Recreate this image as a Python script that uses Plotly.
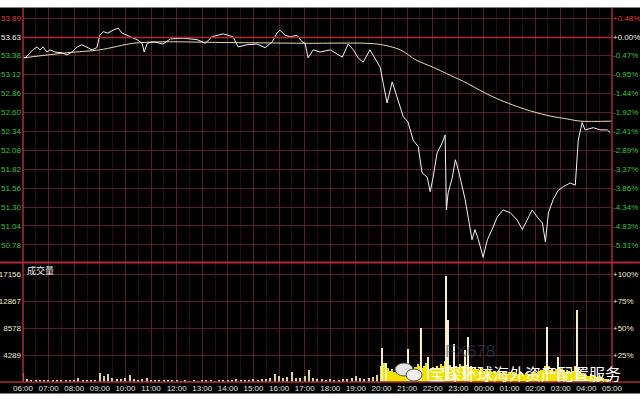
import plotly.graph_objects as go
import pandas as pd

# ---------------- data ----------------
price_times = ["06:01","06:05","06:12","06:23","06:33","06:40","06:47","06:56","07:03","07:15","07:31","07:43","07:55",
               "08:07","08:18","08:30","08:42","08:53","09:00","09:08","09:19","09:31","09:43","09:52","10:04","10:15",
               "10:27","10:39","10:44","10:51","11:05","11:21","11:28","11:45","12:15","12:48","13:07","13:23","13:49",
               "14:12","14:24","14:45","15:08","15:27","15:44","15:55","16:02","16:14","16:26","16:42","16:54","17:01",
               "17:08","17:20","17:36","18:00","18:11","18:28","18:42","18:54","19:05","19:17","19:33","19:50","19:57",
               "20:04","20:13","20:25","20:37","20:51","21:02","21:14","21:26","21:35","21:47","21:54","22:01","22:10",
               "22:22","22:29","22:32","22:36","22:46","22:53","23:00","23:09","23:16","23:23","23:32","23:39","23:47",
               "23:58","00:08","00:19","00:31","00:45","01:02","01:18","01:30","01:41","01:53","02:05","02:17","02:24",
               "02:31","02:42","02:54","03:06","03:22","03:34","03:39","03:41","03:50","03:57","04:16","04:32","04:49","04:56"]
price_vals = [53.36,53.35,53.39,53.46,53.50,53.46,53.50,53.43,53.46,53.43,53.42,53.39,53.43,
              53.50,53.53,53.49,53.46,53.49,53.66,53.71,53.69,53.73,53.76,53.69,53.66,53.64,
              53.60,53.55,53.43,53.55,53.57,53.55,53.54,53.61,53.62,53.60,53.55,53.64,53.68,
              53.64,53.50,53.53,53.54,53.49,53.57,53.69,53.73,53.66,53.64,53.66,53.57,53.55,
              53.35,53.46,53.43,53.46,53.42,53.36,53.54,53.46,53.35,53.29,53.46,53.28,53.22,
              53.00,52.73,53.02,52.81,52.54,52.47,52.22,52.13,51.77,51.71,51.51,51.71,52.04,
              52.18,52.29,51.26,51.49,51.71,51.95,51.81,51.58,51.40,51.16,50.85,50.99,50.85,
              50.61,50.85,50.99,51.16,51.26,51.22,51.12,50.99,51.12,51.26,51.16,51.08,50.82,
              51.22,51.40,51.53,51.58,51.63,51.60,52.04,52.22,52.46,52.36,52.39,52.36,52.36,52.32]

avg_times = ["06:01","07:43","09:00","10:18","11:21","14:00","17:00","19:50","20:44","21:21","22:01",
             "22:41","23:21","23:58","00:38","01:18","01:55","02:35","03:15","03:46","05:00"]
avg_vals = [53.35,53.42,53.46,53.55,53.57,53.56,53.55,53.54,53.46,53.32,53.22,
            53.11,53.00,52.88,52.77,52.68,52.61,52.55,52.51,52.48,52.48]

# quiet-session volume, one value per 10 minutes from 06:00 to 19:50
vol_quiet = [1400,500,300,200,250,200, 150,200,150,200,150,300, 250,600,200,250,200,300,
             1400,900,1200,600,500,400, 700,1100,400,300,500,600, 300,250,200,150,200,150,
             150,100,150,100,150,100, 150,200,150,100,150,200, 250,300,400,300,250,300,
             400,350,500,400,700,1300, 900,700,800,1600,600,700, 1000,1900,600,500,400,350,
             400,300,350,500,400,600, 900,700,500,600,800,1100]
# active-session volume, one value per 5 minutes from 20:00 to 04:55
vol_active = [2600,3000,2400,2200,1800,2000,1600,1900,1700,2300,2000,2500,
              2800,2300,2600,2000,2400,2900,2500,2200,2600,3000,2400,2100,
              2300,2000,2600,2200,2800,2500,3400,3000,2700,2400,2900,2600,
              2400,2800,2500,3100,2700,2300,2500,2000,2300,2100,1900,2200,
              1800,2000,1700,1900,1600,1800,1500,1700,1400,1600,1500,1300,
              1500,1300,1600,1400,1200,1500,1300,1100,1400,1200,1300,1500,
              1600,1400,1700,1900,2200,2600,2300,1900,2100,1800,2000,2400,
              2000,1800,1600,1900,1700,1500,1800,2500,2200,1600,1400,1200,
              1100,1000,1200,900,1000,800,900,700,600,500,400,300]
spike_times = ["20:02","20:11","21:02","21:33","21:49","22:32","22:35","22:50","23:16","23:23","02:28","02:54","03:39"]
spike_vals = [5400,3000,5200,8600,4000,16900,9900,6000,5100,7200,8700,4000,11400]

price_ticks = [53.89,53.63,53.38,53.12,52.86,52.60,52.34,52.08,51.82,51.56,51.30,51.04,50.78]
pct_labels = ["+0.48%","+0.00%","-0.47%","-0.95%","-1.44%","-1.92%","-2.41%","-2.89%","-3.37%",
              "-3.86%","-4.34%","-4.83%","-5.31%"]
vol_ticks = [4289,8578,12867,17156]
vol_pct_labels = ["+25%","+50%","+75%","+100%"]


def dt(hhmm):
    h = int(hhmm[:2])
    day = "2017-01-01" if h >= 6 else "2017-01-02"
    return pd.Timestamp(f"{day} {hhmm}:00")


quiet_times = pd.date_range("2017-01-01 06:00", periods=len(vol_quiet), freq="10min")
active_times = pd.date_range("2017-01-01 20:00", periods=len(vol_active), freq="5min")

X0, X1 = dt("06:00"), dt("05:00")
RED, GREEN, WHITE = "#e03a3a", "#3cc23c", "#f0f0f0"
GRID = "#5a1c2c"
BORDER = "#b0283a"


def col(txt, c):
    return f'<span style="color:{c}">{txt}</span>'


left_text = [col(f"{v:.2f}", RED if i == 0 else (WHITE if i == 1 else GREEN)) for i, v in enumerate(price_ticks)]
right_text = [col(t, RED if i == 0 else (WHITE if i == 1 else GREEN)) for i, t in enumerate(pct_labels)]

fig = go.Figure()
fig.add_trace(go.Scatter(x=[dt(t) for t in avg_times], y=avg_vals, mode="lines",
                         line=dict(color="#e6dfb2", width=1, shape="spline", smoothing=0.8),
                         xaxis="x", yaxis="y", hoverinfo="skip"))
fig.add_trace(go.Scatter(x=[dt(t) for t in price_times], y=price_vals, mode="lines",
                         line=dict(color="#f4f4f4", width=1), xaxis="x", yaxis="y"))
fig.add_trace(go.Scatter(x=[X0], y=[price_ticks[0]], mode="markers", marker=dict(opacity=0),
                         xaxis="x", yaxis="y2", hoverinfo="skip"))
fig.add_trace(go.Bar(x=quiet_times, y=vol_quiet, width=180000, marker=dict(color="#ddd39a", line=dict(width=0)),
                     xaxis="x2", yaxis="y3"))
fig.add_trace(go.Bar(x=active_times, y=vol_active, width=280000, marker=dict(color="#f2e200", line=dict(width=0)),
                     xaxis="x2", yaxis="y3"))
fig.add_trace(go.Bar(x=[dt(t) for t in spike_times], y=spike_vals, width=150000,
                     marker=dict(color="#f4f0c8", line=dict(width=0)), xaxis="x2", yaxis="y3"))
fig.add_trace(go.Scatter(x=[X0], y=[vol_ticks[0]], mode="markers", marker=dict(opacity=0),
                         xaxis="x2", yaxis="y4", hoverinfo="skip"))

P_LO, P_HI = 50.545, 54.035
V_HI = 18900
tickfont = dict(family="Liberation Sans, Arial", size=8, color="#e0e0e0")
volfont = dict(family="Liberation Sans, Arial", size=8, color="#ece8c4")

xcommon = dict(range=[X0, X1], type="date", showgrid=True, gridcolor=GRID, gridwidth=1,
               tick0=X0, dtick=3600000, zeroline=False, showline=False, automargin=False,
               minor=dict(dtick=1800000, tick0=X0, showgrid=True, gridcolor="#2a0c14", gridwidth=1))
fig.update_layout(
    width=640, height=400,
    margin=dict(l=23, r=28, t=8, b=18, autoexpand=False),
    paper_bgcolor="black", plot_bgcolor="black",
    showlegend=False, barmode="overlay", bargap=0,
    xaxis=dict(domain=[0, 1], anchor="y", showticklabels=False, **xcommon),
    xaxis2=dict(domain=[0, 1], anchor="y3", matches="x", tickformat="%H:%M", ticks="",
                tickfont=tickfont, **xcommon),
    yaxis=dict(domain=[0.321, 1], range=[P_LO, P_HI], tickvals=price_ticks, ticktext=left_text,
               showgrid=True, gridcolor=GRID, zeroline=False, ticks="", tickfont=tickfont, anchor="x",
               automargin=False, ticklabelstandoff=1),
    yaxis2=dict(overlaying="y", side="right", range=[P_LO, P_HI], tickvals=price_ticks, ticktext=right_text,
                showgrid=False, zeroline=False, ticks="", tickfont=tickfont, anchor="x", automargin=False,
                ticklabelstandoff=0),
    yaxis3=dict(domain=[0, 0.318], range=[0, V_HI], tickvals=vol_ticks, ticktext=[str(v) for v in vol_ticks],
                showgrid=True, gridcolor=GRID, zeroline=False, ticks="", tickfont=volfont, anchor="x2",
                automargin=False, ticklabelstandoff=1),
    yaxis4=dict(overlaying="y3", side="right", range=[0, V_HI], tickvals=vol_ticks, ticktext=vol_pct_labels,
                showgrid=False, zeroline=False, ticks="", tickfont=volfont, anchor="x2", automargin=False,
                ticklabelstandoff=0),
)

H = 374.0
W = 589.0
def py(pix):
    return (382 - pix) / H
def px(pix):
    return (pix - 23) / W

shapes = [
    dict(type="line", xref="paper", yref="y", x0=0, x1=1, y0=53.63, y1=53.63,
         line=dict(color=BORDER, width=1.5)),
    dict(type="line", xref="paper", yref="paper", x0=px(0), x1=px(640), y0=py(262.5), y1=py(262.5),
         line=dict(color=BORDER, width=2)),
    dict(type="line", xref="paper", yref="paper", x0=px(0), x1=px(640), y0=0, y1=0,
         line=dict(color=BORDER, width=1.5)),
    dict(type="line", xref="paper", yref="paper", x0=0, x1=0, y0=0, y1=1,
         line=dict(color=BORDER, width=1.5)),
    dict(type="line", xref="paper", yref="paper", x0=1, x1=1, y0=0, y1=1,
         line=dict(color=BORDER, width=1.5)),
    # white page margins of the screenshot
    dict(type="rect", xref="paper", yref="paper", x0=px(-5), x1=px(645), y0=py(-5), y1=py(7.5),
         fillcolor="white", line=dict(width=0), layer="above"),
    dict(type="rect", xref="paper", yref="paper", x0=px(-5), x1=px(645), y0=py(393.5), y1=py(405),
         fillcolor="white", line=dict(width=0), layer="above"),
    # WeChat-style logo of the watermark
    dict(type="circle", xref="paper", yref="paper", x0=px(395), x1=px(413), y0=py(376), y1=py(363),
         fillcolor="#e4e4e4", line=dict(color="#555", width=1), layer="above"),
    dict(type="circle", xref="paper", yref="paper", x0=px(406), x1=px(422), y0=py(381), y1=py(369),
         fillcolor="#efefef", line=dict(color="#555", width=1), layer="above"),
]
fig.update_layout(shapes=shapes)

fig.add_annotation(xref="paper", yref="paper", x=px(25), y=py(270), text="成交量", showarrow=False,
                   xanchor="left", yanchor="middle",
                   font=dict(family="Noto Sans CJK SC", size=9, color="#e8e8e8"))
fig.add_annotation(xref="paper", yref="paper", x=px(470), y=py(351), text="FX678", showarrow=False,
                   xanchor="center", yanchor="middle", opacity=0.55,
                   font=dict(family="Liberation Sans, Arial", size=17, color="#3a4868"))
fig.add_annotation(xref="paper", yref="paper", x=px(525), y=py(373), text="宝琛环球海外资产配置服务",
                   showarrow=False, xanchor="center", yanchor="middle",
                   font=dict(family="Noto Sans CJK SC", size=16, color="white"))

fig.write_html("out.html", config={"displayModeBar": False},
               post_script="document.body.style.margin='0px';document.body.style.overflow='hidden';")
